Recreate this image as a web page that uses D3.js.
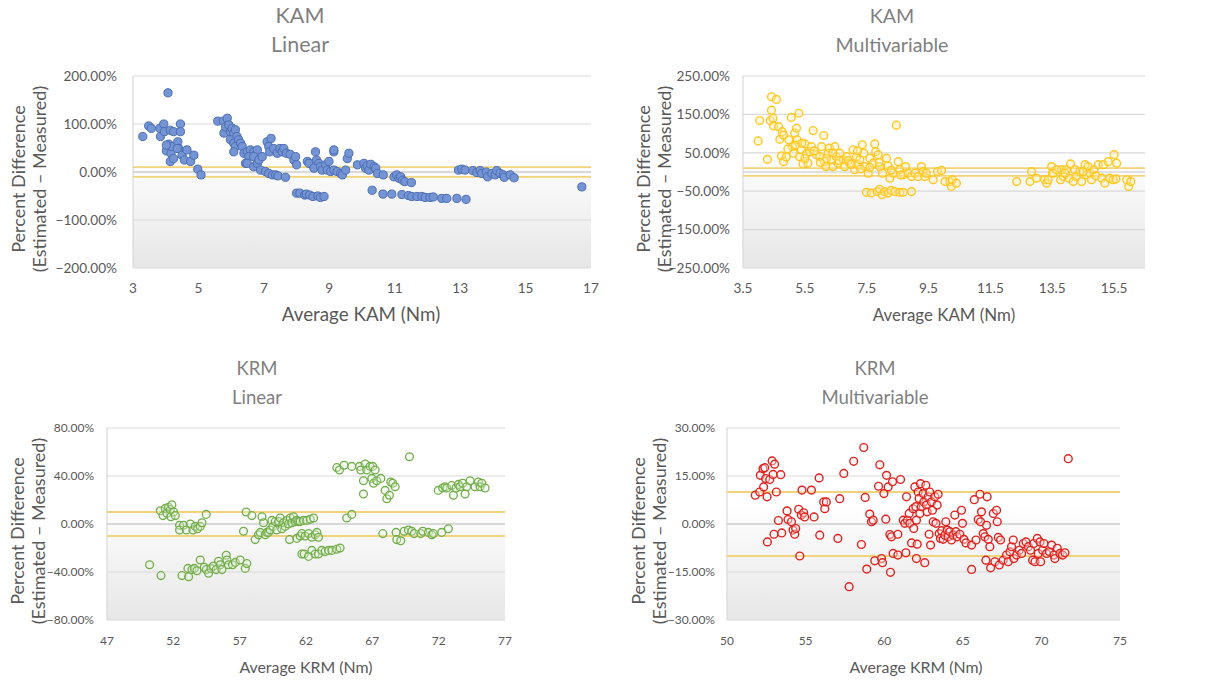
<!DOCTYPE html>
<html>
<head>
<meta charset="utf-8">
<title>Percent difference scatter plots</title>
<script src="https://d3js.org/d3.v7.min.js"></script>
<style>
  body { margin: 0; background: #fff; }
  svg { font-family: Lato, "Open Sans", sans-serif; }
  .tick-label { fill: #595959; }
  .chart-title { fill: #7f7f7f; }
  .axis-title { fill: #595959; }
</style>
</head>
<body>
<div id="chart"></div>
<script>
// ---- data (x = average moment in Nm, y = percent difference) ----
var kamLinear = [
  [3.30,74],[3.48,96],[3.56,91],[3.82,91],[3.84,74],[3.94,100],[3.96,84],[4.07,165],[4.02,44],[4.09,58],
  [4.14,87],[4.16,39],[4.14,22],[4.19,53],[4.24,84],[4.24,28],[4.37,63],[4.40,49],[4.45,100],[4.45,84],
  [4.50,35],[4.57,25],[4.65,46],[4.76,22],[4.86,35],[4.98,6],[5.08,-6],[4.02,56],[4.35,49],
  [5.59,106],[5.76,106],[5.88,112],[5.78,81],[5.83,94],[5.93,98],[5.98,84],[6.03,91],[6.08,81],[6.13,88],
  [5.98,67],[6.08,60],[6.18,74],[6.23,67],[6.13,53],[6.29,60],[6.34,53],[6.08,42],[6.39,39],[6.49,42],
  [6.59,46],[6.69,42],[6.80,46],[6.54,32],[6.69,32],[6.44,18],[6.49,18],[6.69,11],[6.80,18],[6.85,25],
  [6.95,32],[6.90,4],[7.05,1],[7.15,-3],[7.26,-6],[7.36,-6],[7.43,-8],[7.66,-11],
  [7.10,63],[7.15,53],[7.22,70],[7.18,42],[7.30,49],[7.41,39],[7.49,49],[7.56,42],[7.61,49],[7.69,39],
  [7.80,37],[7.92,25],[7.97,32],[8.00,15],
  [8.33,22],[8.38,18],[8.58,42],[8.61,25],[8.68,18],[8.53,8],[8.73,11],[8.78,4],[8.89,15],[8.99,22],
  [8.94,4],[9.04,1],[9.14,42],[9.14,4],[9.24,1],[9.35,-3],[9.40,-6],[9.50,4],[9.55,28],[9.60,39],[9.14,46],
  [8.00,-44],[8.10,-44],[8.25,-48],[8.30,-46],[8.40,-48],[8.50,-51],[8.65,-50],[8.73,-53],[8.84,-51],
  [9.86,15],[10.06,18],[10.11,8],[10.16,13],[10.21,4],[10.27,16],[10.37,11],[10.42,8],[10.47,-3],[10.65,-6],
  [10.31,-38],[10.98,-10],[11.06,-6],[11.13,-13],[11.18,-10],[11.24,-17],[11.31,-20],[11.51,-22],
  [10.64,-46],[10.91,-46],[11.22,-47],[11.42,-49],[11.52,-51],[11.68,-51],[11.83,-51],[11.93,-53],[12.08,-53],
  [12.18,-52],[12.44,-55],[12.59,-55],[12.90,-55],[13.18,-57],
  [12.95,4],[13.05,6],[13.15,4],[13.39,3],[13.51,-1],[13.61,3],[13.66,-3],[13.80,0],[13.84,-10],[13.97,-3],
  [14.07,-6],[14.12,3],[14.22,-3],[14.32,-6],[14.35,-11],[14.53,-6],[14.65,-12],[16.72,-31]
];

var kamMulti = [
  [3.99,81],[4.04,134],[4.29,33],[4.38,134],[4.42,196],[4.42,161],[4.47,140],[4.49,120],[4.58,189],[4.65,118],
  [4.69,85],[4.77,105],[4.81,96],[4.74,42],[4.81,27],[4.90,39],[4.98,84],[5.06,142],[5.10,66],[5.13,49],
  [5.17,101],[5.23,114],[5.25,84],[5.31,153],[5.33,40],[5.39,58],[5.44,21],[5.50,73],[5.55,47],[5.60,23],
  [5.66,53],[5.71,66],[5.77,108],[5.87,45],[5.98,40],[6.04,66],[6.11,95],[6.14,27],[6.18,14],[6.25,49],
  [6.30,62],[6.36,32],[6.41,14],[6.47,66],[6.52,40],[6.57,23],[6.63,49],[6.74,32],[6.79,14],[6.85,40],
  [6.95,23],[7.06,58],[7.11,6],[7.17,40],[7.22,19],[7.28,32],[7.36,71],[7.41,49],[7.44,14],[7.55,-3],
  [7.60,36],[7.71,23],[7.76,73],[7.79,53],[7.87,45],[7.92,14],[8.01,-3],[8.14,36],[8.19,16],[8.25,-16],
  [8.36,-3],[8.46,122],[8.52,27],[8.57,6],[8.68,-7],[8.76,14],[8.84,-3],[8.95,-12],[9.06,-3],[9.16,-12],
  [9.27,14],[9.33,1],[9.38,-12],[9.43,-3],[9.65,-20],[9.79,1],[9.92,4],[10.03,-25],[10.19,-25],[10.24,-38],
  [10.27,-20],[10.40,-29],
  [4.95,60],[5.20,70],[5.40,75],[5.80,55],[6.20,35],[6.60,30],[6.90,30],[7.00,20],[7.30,8],[7.60,12],
  [7.90,25],[8.30,5],[8.60,-8],[6.40,50],[7.20,55],[5.50,35],[6.00,25],
  [7.49,-53],[7.65,-55],[7.84,-51],[7.92,-45],[8.00,-59],[8.08,-51],[8.19,-55],[8.29,-48],[8.41,-51],[8.57,-53],
  [8.68,-53],[8.95,-51],
  [12.35,-25],[12.78,-25],[12.83,1],[12.99,-16],[13.26,-20],[13.32,-29],[13.37,-20],[13.48,14],[13.51,-3],[13.77,-20],
  [13.80,6],[13.86,-12],[13.96,6],[14.05,-16],[14.09,21],[14.18,-25],[14.23,6],[14.28,-12],[14.39,1],[14.45,-25],
  [14.56,19],[14.61,-7],[14.66,14],[14.72,-3],[14.77,-20],[14.85,6],[14.91,-10],[14.99,19],[15.10,-16],[15.15,19],
  [15.20,-29],[15.31,27],[15.36,-16],[15.47,-20],[15.50,45],[15.58,23],[15.56,-18],[15.91,-20],[15.97,-38],[16.04,-25],
  [13.53,-3],[13.64,6],[13.91,-3],[14.50,1]
];

var krmLinear = [
  [50.21,-34],[51.07,-43],[51.02,11],[51.22,7],[51.39,13],[51.52,9],[51.64,14],[51.77,12],[51.89,16],[51.82,6],
  [52.02,10],[52.15,7],[52.47,-1],[52.47,-5],[52.77,-1],[52.98,-5],[53.28,0],[53.48,-5],[53.65,-2],[53.83,-4],
  [54.03,-2],[54.16,1],[54.48,8],
  [52.65,-43],[53.10,-37],[53.15,-44],[53.40,-38],[53.58,-37],[53.78,-39],[54.03,-30],[54.33,-36],[54.48,-38],[54.66,-41],
  [54.83,-37],[55.03,-35],[55.23,-38],[55.41,-31],[55.54,-34],[55.66,-38],[55.99,-26],[56.04,-30],[56.16,-34],[56.46,-34],
  [56.67,-32],[57.04,-30],[57.42,-37],[57.54,-33],
  [57.29,-6],[57.49,10],[57.92,7],[58.17,-13],[58.42,-9],[58.55,-7],[58.68,6],[58.80,1],[58.93,-9],[59.05,-7],
  [59.18,-7],[59.30,-5],[59.43,3],[59.50,-2],[59.68,2],[59.80,-5],[59.93,2],[60.06,5],[60.18,-4],[60.31,1],
  [60.43,-2],[60.56,3],[60.68,0],[60.81,5],[60.94,1],[61.06,6],[61.18,2],[61.31,3],[61.44,2],[61.56,2],
  [61.81,3],[62.06,3],[62.32,4],[62.57,5],
  [60.76,-13],[61.31,-12],[61.56,-10],[61.69,-8],[61.94,-10],[62.19,-8],[62.44,-11],[62.69,-9],[62.82,-7],[62.94,-11],
  [61.69,-25],[61.86,-25],[62.19,-27],[62.44,-22],[62.69,-25],[62.94,-25],[63.19,-22],[63.44,-23],[63.70,-22],[63.95,-22],
  [64.32,-21],[64.57,-20],[65.07,5],[65.45,8],
  [64.32,47],[64.52,45],[64.87,49],[65.45,48],[66.03,48],[66.13,45],[66.46,50],[66.58,45],[66.83,48],[67.03,48],
  [67.21,45],[66.33,36],[66.33,25],[66.96,38],[67.09,34],[67.34,36],[67.64,38],[67.96,28],[68.09,21],[68.29,24],
  [68.39,35],[68.54,34],[68.72,31],
  [67.79,-8],[68.79,-7],[68.84,-13],[69.14,-14],[69.40,-6],[69.72,-5],[69.80,56],[69.97,-6],[70.15,-8],[70.65,-8],
  [70.80,-6],[71.23,-7],[71.48,-9],[71.60,-8],[71.97,28],[72.23,-7],[72.73,-4],
  [72.30,30],[72.48,31],[72.61,30],[72.98,32],[73.11,24],[73.31,30],[73.49,33],[73.61,31],[73.81,34],[73.99,25],
  [74.11,31],[74.37,36],[74.74,31],[74.99,35],[75.12,31],[75.25,34],[75.50,30]
];

var krmMulti = [
  [51.80,9],[52.08,10],[52.12,15.2],[52.29,17.3],[52.33,11.6],[52.40,17.6],[52.46,14.2],[52.55,8.5],[52.57,-5.6],[52.72,13.9],
  [52.87,19.7],[52.93,15.5],[52.99,-3.2],[53.03,18.7],[53.14,10],[53.27,1.1],[53.42,15.4],[53.48,-2.8],[53.82,4.1],[53.88,1.4],
  [54.10,0.7],[54.20,-1.9],[54.31,-3.2],[54.37,-1.4],[54.56,4.6],[54.63,-10],[54.73,2.8],[54.77,10.6],[54.88,3.5],[54.94,2.2],
  [55.37,10.6],[55.54,2.2],[55.86,14.4],[55.90,-3.5],[56.15,6.9],[56.22,4.8],[56.32,6.9],[57.05,-4.5],[57.17,7.9],[57.43,15.8],
  [57.77,-19.6],[58.06,19.6],[58.55,-6.4],[58.70,23.9],[58.79,8.3],[58.89,-14.1],[59.08,3.1],[59.19,0.7],[59.30,1.2],[59.40,-11.5],
  [59.64,11.8],[59.72,18.5],[59.83,-10.8],[59.89,-12.1],[59.98,9.5],[60.10,1.5],[60.15,15.2],[60.25,11.6],[60.36,-3.3],[60.40,-15.1],
  [60.46,-4],[60.53,13.2],[60.57,-9.2],[60.87,-9.7],[60.87,-3.2],[61.04,13.9],[61.21,1.2],[61.31,0.2],[61.38,-9],[61.42,8.5],
  [61.48,1.2],[61.59,3.3],[61.63,0.2],[61.74,-5.9],[61.84,4.8],[61.88,-1.4],[61.95,11.6],[62.01,5.4],[62.05,1.2],[62.05,-10.8],
  [62.10,-6.3],[62.16,10],[62.22,8],[62.27,3.3],[62.31,12.6],[62.37,5.4],[62.48,9.5],[62.52,6.9],[62.58,-12.1],[62.65,12.1],
  [62.69,5.9],[62.73,3.8],[62.80,8.5],[62.86,-3.2],[62.90,10],[62.95,-6.6],[63.01,6.9],[63.07,4.3],[63.12,0.7],[63.22,8.5],
  [63.29,0.2],[63.37,5.9],[63.43,9.3],[63.50,-3],[63.58,-4.5],[63.65,-2.1],[63.75,-4.8],[63.86,-3.5],[63.92,0.7],[64.01,-1.9],
  [64.07,-4],[64.18,-2.4],[64.28,-5],[64.39,-3.5],[64.49,2.8],[64.56,-2.4],[64.64,-4],[64.81,-3.2],[64.92,4.3],[64.98,0.2],
  [65.07,-4.8],[65.20,-5.9],[65.56,-14.2],[65.56,-6.6],[65.73,7.6],[65.84,-5],[65.98,1.4],[66.09,9.3],[66.13,0.7],[66.19,3.8],
  [66.30,-3],[66.40,-4],[66.47,-11.3],[66.51,-0.4],[66.55,8.5],[66.62,-4.8],[66.72,-7.1],[66.77,-13.7],[66.94,3.3],[67.04,-11.8],
  [67.15,4.3],[67.19,0.7],[67.26,-4.2],[67.32,-12.8],[67.40,-5],[67.57,-11.3],[67.78,-9.7],[67.89,-11.8],[68.00,-8.7],[68.10,-7.1],
  [68.21,-5],[68.25,-10.8],[68.42,-9.7],[68.59,-8.2],[68.74,-9.2],[68.85,-6.1],[69.02,-5.6],[69.17,-7.1],[69.31,-8.2],[69.44,-11.3],
  [69.52,-6.1],[69.59,-11.8],[69.74,-4.5],[69.80,-9.2],[69.91,-5.6],[69.95,-11.8],[70.08,-8.2],[70.16,-6.1],[70.33,-9.2],[70.50,-8.6],
  [70.65,-6.6],[70.80,-9.7],[70.86,-10.8],[71.01,-7.6],[71.18,-9.2],[71.35,-9.7],[71.50,-9],[71.71,20.4]
];

// tick values
var kamLinXTicks = [3, 5, 7, 9, 11, 13, 15, 17];
var kamLinYTicks = [-200, -100, 0, 100, 200];
var kamMulXTicks = [3.5, 5.5, 7.5, 9.5, 11.5, 13.5, 15.5];
var kamMulYTicks = [-250, -150, -50, 50, 150, 250];
var krmLinXTicks = [47, 52, 57, 62, 67, 72, 77];
var krmLinYTicks = [-80, -40, 0, 40, 80];
var krmMulXTicks = [50, 55, 60, 65, 70, 75];
var krmMulYTicks = [-30, -15, 0, 15, 30];

// the two yellow limit lines (+/- 10 %)
var limits = [10, -10];

var panels = [
  { title: ["KAM", "Linear"], xLabel: "Average KAM (Nm)", data: kamLinear,
    xTicks: kamLinXTicks, yTicks: kamLinYTicks, xDomain: [3, 17], yDomain: [-200, 200],
    box: { left: 133, right: 591, top: 76, bottom: 268 },
    titleX: 300, titleY: 23, titleSize: 21.5, xLabelX: 361, xLabelSize: 18.8,
    tickSize: 13.6, tickGap: 16, yTitleX: 25,
    marker: { fill: "#7494d4", stroke: "#4a6db3", width: 1, r: 4.1 } },
  { title: ["KAM", "Multivariable"], xLabel: "Average KAM (Nm)", data: kamMulti,
    xTicks: kamMulXTicks, yTicks: kamMulYTicks, xDomain: [3.5, 16.5], yDomain: [-250, 250],
    box: { left: 743, right: 1145, top: 76, bottom: 268 },
    titleX: 892, titleY: 23, titleSize: 19.6, xLabelX: 944, xLabelSize: 16.9,
    tickSize: 13.6, tickGap: 13, yTitleX: 650,
    marker: { fill: "rgba(255,236,170,0.35)", stroke: "#ffc820", width: 1.4, r: 3.9 } },
  { title: ["KRM", "Linear"], xLabel: "Average KRM (Nm)", data: krmLinear,
    xTicks: krmLinXTicks, yTicks: krmLinYTicks, xDomain: [47, 77], yDomain: [-80, 80],
    box: { left: 107, right: 505, top: 428, bottom: 620 },
    titleX: 257, titleY: 375, titleSize: 18.5, xLabelX: 306, xLabelSize: 15.9,
    tickSize: 12, tickGap: 13, yTitleX: 24,
    marker: { fill: "rgba(226,240,217,0.35)", stroke: "#70ad47", width: 1.3, r: 3.9 } },
  { title: ["KRM", "Multivariable"], xLabel: "Average KRM (Nm)", data: krmMulti,
    xTicks: krmMulXTicks, yTicks: krmMulYTicks, xDomain: [50, 75], yDomain: [-30, 30],
    box: { left: 727, right: 1120, top: 428, bottom: 620 },
    titleX: 875, titleY: 375, titleSize: 18.6, xLabelX: 916, xLabelSize: 15.9,
    tickSize: 12, tickGap: 12, yTitleX: 645,
    marker: { fill: "rgba(255,235,235,0.4)", stroke: "#e0201c", width: 1.4, r: 3.9 } }
];

var svg = d3.select("#chart").append("svg")
  .attr("width", 1228)
  .attr("height", 681);

// plot area fill: white on top fading to light grey at the bottom
var grad = svg.append("defs").append("linearGradient")
  .attr("id", "plotFill")
  .attr("x1", 0).attr("y1", 0).attr("x2", 0).attr("y2", 1);
grad.append("stop").attr("offset", "0%").attr("stop-color", "#ffffff");
grad.append("stop").attr("offset", "40%").attr("stop-color", "#ffffff");
grad.append("stop").attr("offset", "100%").attr("stop-color", "#e6e6e6");

var pct = d3.format(".2f");

panels.forEach(function (p) {
  var b = p.box;
  var x = d3.scaleLinear().domain(p.xDomain).range([b.left, b.right]);
  var y = d3.scaleLinear().domain(p.yDomain).range([b.bottom, b.top]);
  var g = svg.append("g");

  g.append("rect")
    .attr("x", b.left).attr("y", b.top)
    .attr("width", b.right - b.left).attr("height", b.bottom - b.top)
    .attr("fill", "url(#plotFill)");

  // gridlines
  g.selectAll(".grid").data(p.yTicks).enter().append("line")
    .attr("x1", b.left).attr("x2", b.right)
    .attr("y1", function (d) { return y(d); })
    .attr("y2", function (d) { return y(d); })
    .attr("stroke", "#d9d9d9").attr("stroke-width", 1.2);

  // left edge of the plot area
  g.append("line")
    .attr("x1", b.left).attr("x2", b.left)
    .attr("y1", b.top).attr("y2", b.bottom)
    .attr("stroke", "#d9d9d9").attr("stroke-width", 1.2);

  // horizontal axis at zero
  g.append("line")
    .attr("x1", b.left).attr("x2", b.right)
    .attr("y1", y(0)).attr("y2", y(0))
    .attr("stroke", "#c8c8c8").attr("stroke-width", 1.2);

  // +/- 10 % lines
  g.selectAll(".limit").data(limits).enter().append("line")
    .attr("x1", b.left).attr("x2", b.right)
    .attr("y1", function (d) { return y(d); })
    .attr("y2", function (d) { return y(d); })
    .attr("stroke", "#f3d37a").attr("stroke-width", 1.8);

  // points
  g.selectAll(".pt").data(p.data).enter().append("circle")
    .attr("cx", function (d) { return x(d[0]); })
    .attr("cy", function (d) { return y(d[1]); })
    .attr("r", p.marker.r)
    .attr("fill", p.marker.fill)
    .attr("stroke", p.marker.stroke)
    .attr("stroke-width", p.marker.width);

  // tick labels
  g.selectAll(".ylab").data(p.yTicks).enter().append("text")
    .attr("class", "tick-label")
    .attr("x", b.left - p.tickGap)
    .attr("y", function (d) { return y(d) + p.tickSize * 0.36; })
    .attr("text-anchor", "end")
    .style("font-size", p.tickSize + "px")
    .text(function (d) { return pct(d) + "%"; });

  g.selectAll(".xlab").data(p.xTicks).enter().append("text")
    .attr("class", "tick-label")
    .attr("x", function (d) { return x(d); })
    .attr("y", b.bottom + 25)
    .attr("text-anchor", "middle")
    .style("font-size", p.tickSize + "px")
    .text(function (d) { return d; });

  // titles
  g.selectAll(".ttl").data(p.title).enter().append("text")
    .attr("class", "chart-title")
    .attr("x", p.titleX)
    .attr("y", function (d, i) { return p.titleY + i * 29; })
    .attr("text-anchor", "middle")
    .style("font-size", p.titleSize + "px")
    .text(function (d) { return d; });

  g.append("text")
    .attr("class", "axis-title")
    .attr("x", p.xLabelX)
    .attr("y", b.bottom + 53)
    .attr("text-anchor", "middle")
    .style("font-size", p.xLabelSize + "px")
    .text(p.xLabel);

  var cy = (b.top + b.bottom) / 2 + 7;
  g.selectAll(".ytitle").data(["Percent Difference", "(Estimated \u2013 Measured)"]).enter().append("text")
    .attr("class", "axis-title")
    .attr("transform", function (d, i) {
      return "translate(" + (p.yTitleX + i * 21) + "," + cy + ") rotate(-90)";
    })
    .attr("text-anchor", "middle")
    .style("font-size", "18px")
    .text(function (d) { return d; });
});
</script>
</body>
</html>
